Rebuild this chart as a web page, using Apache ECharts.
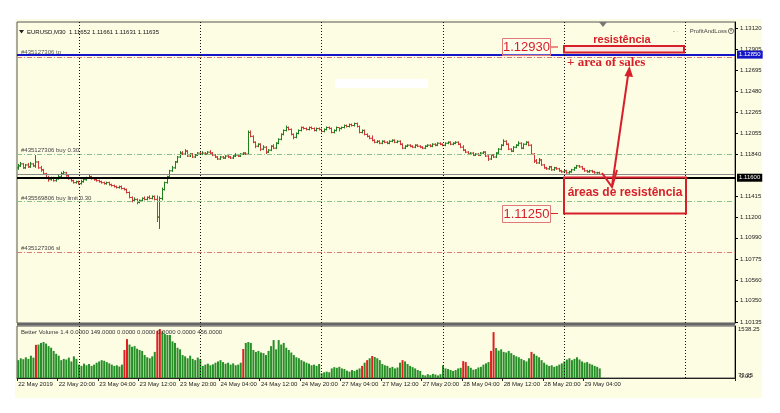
<!DOCTYPE html>
<html><head><meta charset="utf-8">
<script src="https://cdn.jsdelivr.net/npm/echarts@6/dist/echarts.min.js"></script>
<style>html,body{margin:0;padding:0;background:#fff;}#c{width:780px;height:413px;}</style>
</head><body><div id="c"></div>
<script>
// ---------- data (prices in pips above 1.10000) ----------
const SLOTS = 284;
const tickIndex = [0,16,32,48,64,80,96,112,128,144,160,176,192,208,224];
const tickLabels = ["22 May 2019","22 May 20:00","23 May 04:00","23 May 12:00","23 May 20:00","24 May 04:00","24 May 12:00","24 May 20:00","27 May 04:00","27 May 12:00","27 May 20:00","28 May 04:00","28 May 12:00","28 May 20:00","29 May 04:00"];
const daySeparators = [24,72,120,168,216,264];
const priceTicks = [1.13120,1.12905,1.12695,1.12480,1.12265,1.12055,1.11840,1.11415,1.11200,1.10990,1.10775,1.10560,1.10350,1.10135];
const volumeTicks = [73.25,1538.25];

const openPips = [
170,172,174,170,173,171,174,172,176,170,
168,164,160,158,160,157,159,161,164,165,
162,159,157,155,156,154,156,158,160,161,
159,158,157,156,155,154,155,153,152,151,
150,151,149,148,145,140,137,138,135,137,
139,138,140,139,141,138,120,139,148,155,
161,167,170,176,181,185,184,187,182,184,
181,183,185,184,185,184,186,185,183,181,
179,181,180,182,181,180,182,183,182,184,
185,184,206,202,196,192,194,189,191,186,
188,192,190,195,199,204,208,211,209,204,
201,205,208,211,210,209,211,210,208,210,
209,207,209,211,210,206,208,211,210,211,
213,212,214,213,215,212,206,208,204,202,
200,198,196,197,195,197,196,195,197,198,
196,197,194,190,192,193,192,191,193,192,
191,190,192,193,192,194,193,195,194,193,
195,196,194,195,196,194,191,188,186,184,
185,183,184,183,185,186,182,179,183,181,
185,189,193,197,194,189,187,191,193,195,
190,194,196,193,184,177,175,178,173,170,
169,171,168,170,169,167,166,167,165,166,
168,170,172,171,169,167,166,167,166,165,165.2];

const highPips = [
174,176,175,174,175,176,175,183,177,172,
169,165,162,161,161,160,163,166,167,166,
163,160,158,157,157,158,159,161,163,162,
160,159,158,157,156,156,156,154,153,152,
152,152,150,149,146,141,140,139,138,140,
141,141,142,142,142,142,141,150,156,162,
168,172,177,182,187,187,189,188,185,185,
184,186,187,187,186,187,188,186,184,182,
182,182,183,183,182,183,185,184,185,186,
186,208,208,203,197,195,195,193,192,189,
193,194,196,200,205,209,213,212,210,205,
206,209,212,212,211,212,212,211,211,211,
210,210,212,212,211,209,212,211,212,214,
214,215,215,216,216,213,209,209,205,203,
203,199,198,198,198,198,197,198,199,199,
198,198,195,193,194,194,193,194,194,193,
192,193,194,194,195,195,196,196,195,196,
197,197,196,197,197,195,193,189,187,186,
186,185,185,186,187,187,183,184,184,186,
190,194,199,198,195,190,192,194,197,196,
195,197,197,194,185,179,180,179,174,171,
172,172,171,171,170,168,168,168,167,169,
171,173,173,172,170,168,168,168,167,166,166.1];

const lowPips = [
168,171,169,169,170,170,171,170,169,166,
163,159,156,157,156,156,158,160,163,161,
158,156,154,154,153,153,155,157,159,158,
157,156,155,154,153,153,152,151,150,149,
149,148,147,144,139,135,136,133,134,136,
137,137,138,138,137,115,108,137,147,154,
160,166,169,175,180,183,183,181,181,180,
180,182,183,183,183,183,184,182,180,178,
178,179,179,180,179,179,181,181,181,183,
183,183,201,195,190,191,187,188,184,185,
187,189,189,194,198,203,207,208,203,199,
200,204,207,209,208,208,209,207,207,208,
206,206,208,209,205,205,207,207,209,210,
211,211,212,212,211,205,205,203,201,199,
197,195,195,194,194,195,194,194,196,195,
195,193,189,189,191,191,190,190,191,190,
189,189,191,191,191,192,192,193,192,192,
194,193,193,194,193,190,187,185,183,183,
182,182,182,182,184,181,177,178,180,180,
184,188,192,193,188,186,186,190,192,189,
189,193,192,183,175,174,174,172,169,168,
168,167,167,168,166,165,165,164,164,165,
167,169,170,168,166,165,165,165,164,164,163.1];

const closePips = [
172,174,170,173,171,174,172,176,170,168,
164,160,158,160,157,159,161,164,165,162,
159,157,155,156,154,156,158,160,161,159,
158,157,156,155,154,155,153,152,151,150,
151,149,148,145,140,137,138,135,137,139,
138,140,139,141,138,120,139,148,155,161,
167,170,176,181,185,184,187,182,184,181,
183,185,184,185,184,186,185,183,181,179,
181,180,182,181,180,182,183,182,184,185,
184,206,202,196,192,194,189,191,186,188,
192,190,195,199,204,208,211,209,204,201,
205,208,211,210,209,211,210,208,210,209,
207,209,211,210,206,208,211,210,211,213,
212,214,213,215,212,206,208,204,202,200,
198,196,197,195,197,196,195,197,198,196,
197,194,190,192,193,192,191,193,192,191,
190,192,193,192,194,193,195,194,193,195,
196,194,195,196,194,191,188,186,184,185,
183,184,183,185,186,182,179,183,181,185,
189,193,197,194,189,187,191,193,195,190,
194,196,193,184,177,175,178,173,170,169,
171,168,170,169,167,166,167,165,166,168,
170,172,171,169,167,166,167,166,165,165,163.5];

const volume = [
560,620,590,650,600,700,640,1040,1050,1100,
1130,1080,1000,950,850,760,700,560,600,580,
640,520,680,600,420,380,450,400,440,380,
420,480,520,560,540,500,460,420,380,400,
360,420,880,1220,1050,980,1000,920,880,850,
720,650,620,680,820,1480,1538,1470,1380,1350,
1350,1150,1100,950,900,720,680,620,700,600,
560,640,590,380,420,450,400,430,480,520,
560,500,450,480,420,460,400,420,480,910,
1100,1130,1100,880,820,850,800,780,720,850,
1000,1190,900,1190,1050,1100,950,880,800,720,
650,620,560,520,480,450,400,420,380,440,
150,180,200,180,300,340,320,350,300,280,
230,200,250,220,260,300,380,480,560,620,
690,660,620,560,440,400,380,320,350,300,
330,480,560,520,440,380,340,300,250,220,
100,80,120,90,130,110,80,120,400,300,
280,250,220,250,300,320,530,500,380,320,
260,280,330,350,420,460,500,850,1440,940,
860,900,820,800,850,780,720,680,650,600,
560,520,620,820,760,700,650,560,480,420,
380,400,350,380,420,460,520,580,620,560,
600,650,580,520,480,500,450,420,380,350,300];
const climaxBars = [7,42,43,55,56,89,136,138,140,152,176,177,187,188,203];

// order / price lines
const tpLine = 1.12850, tpShadow = 1.12820, buyLine = 1.11840, bidLine = 1.11635,
      levelLine = 1.11600, buyLimitLine = 1.11365, slLine = 1.10845;

// ---------- chart ----------
const FONT = '"Liberation Sans", Arial, sans-serif';
const BG = '#FDFDE4';
const UP = '#1F7F1F', DOWN = '#CC3838';
const VGREEN = '#278F27', VRED = '#E02020';
const ANN = '#D7202A';
const toPrice = p => Math.round((1.1 + p / 10000) * 1e5) / 1e5;
const cats = Array.from({length: SLOTS}, (_, i) => i);
const ohlc = closePips.map((c, i) => [i, toPrice(openPips[i]), toPrice(highPips[i]), toPrice(lowPips[i]), toPrice(c)]);
const volData = volume.map((v, i) => ({value: v, itemStyle: {color: climaxBars.includes(i) ? VRED : VGREEN}}));

function renderBar(params, api) {
  const i = api.value(0), o = api.value(1), h = api.value(2), l = api.value(3), c = api.value(4);
  const pO = api.coord([i, o]), pH = api.coord([i, h]), pL = api.coord([i, l]), pC = api.coord([i, c]);
  const x = Math.floor(pO[0]) + 0.5;
  const color = c >= o ? UP : DOWN;
  let yH = pH[1], yL = pL[1];
  if (yL - yH < 1) yL = yH + 1;
  return {type: 'group', children: [
    {type: 'line', shape: {x1: x, y1: yH, x2: x, y2: yL}, style: {stroke: color, lineWidth: 1}},
    {type: 'line', shape: {x1: x - 1.5, y1: pO[1], x2: x, y2: pO[1]}, style: {stroke: color, lineWidth: 1}},
    {type: 'line', shape: {x1: x, y1: pC[1], x2: x + 1.5, y2: pC[1]}, style: {stroke: color, lineWidth: 1}}
  ]};
}

const dashDot = [5, 2, 1, 2];
const vSep = daySeparators.map(v => ({xAxis: v, lineStyle: {color: '#111', type: [1, 2], width: 1}}));
const boxLabel = (txt, bg) => ({show: true, position: 'end', formatter: txt, color: '#fff', backgroundColor: bg,
  fontSize: 6, fontFamily: FONT, padding: [1, 2, 1, 2], distance: 2});

const isTick = idx => tickIndex.includes(idx);

const chart = echarts.init(document.getElementById('c'));
chart.setOption({
  animation: false,
  backgroundColor: '#fff',
  grid: [
    {left: 17, right: 45, top: 22, height: 301, show: true, borderColor: '#555', borderWidth: 1, backgroundColor: 'transparent'},
    {left: 17, right: 45, top: 326, height: 52, show: true, borderColor: '#555', borderWidth: 1, backgroundColor: 'transparent'}
  ],
  xAxis: [
    {type: 'category', gridIndex: 0, data: cats, boundaryGap: true,
     axisLine: {show: false}, axisTick: {show: false}, axisLabel: {show: false}, splitLine: {show: false}},
    {type: 'category', gridIndex: 1, data: cats, boundaryGap: true,
     axisLine: {show: true, lineStyle: {color: '#222'}},
     axisTick: {show: true, interval: isTick, length: 3, lineStyle: {color: '#222'}},
     axisLabel: {show: true, interval: isTick, formatter: (v, idx) => tickLabels[tickIndex.indexOf(idx)] || '',
       align: 'left', fontSize: 6, fontFamily: FONT, color: '#222', margin: 3},
     splitLine: {show: false}}
  ],
  yAxis: [
    {type: 'value', gridIndex: 0, position: 'right', min: 1.10125, max: 1.13181, scale: true,
     splitLine: {show: false},
     axisLine: {show: true, lineStyle: {color: '#000'}},
     axisTick: {show: true, customValues: priceTicks, length: 3, lineStyle: {color: '#000'}},
     axisLabel: {customValues: priceTicks, formatter: v => v.toFixed(5), fontSize: 6, fontFamily: FONT, color: '#222', margin: 5}},
    {type: 'value', gridIndex: 1, position: 'right', min: 0, max: 1632,
     splitLine: {show: false},
     axisLine: {show: true, lineStyle: {color: '#000'}},
     axisTick: {show: false},
     axisLabel: {customValues: volumeTicks, formatter: v => v.toFixed(2), fontSize: 6, fontFamily: FONT, color: '#222', margin: 3}}
  ],
  series: [
    {type: 'line', name: 'orders', xAxisIndex: 0, yAxisIndex: 0, data: [], z: 2, silent: true,
     markLine: {silent: true, symbol: ['none', 'none'], animation: false, precision: 5, label: {show: false},
       data: [
         {yAxis: tpShadow, lineStyle: {color: '#E07878', type: dashDot, width: 1}},
         {yAxis: buyLine, lineStyle: {color: '#8CC28C', type: dashDot, width: 1}},
         {yAxis: buyLimitLine, lineStyle: {color: '#8CC28C', type: dashDot, width: 1}},
         {yAxis: slLine, lineStyle: {color: '#E07878', type: dashDot, width: 1}},
         {yAxis: bidLine, lineStyle: {color: '#8A8A8A', type: 'solid', width: 1}},
         {yAxis: levelLine, lineStyle: {color: '#000', type: 'solid', width: 2}, label: boxLabel('1.11600', '#000')},
         {yAxis: tpLine, lineStyle: {color: '#1414C8', type: 'solid', width: 2}, label: boxLabel('1.12850', '#1414C8')},
         ...vSep
       ]}},
    {type: 'custom', name: 'EURUSD,M30', xAxisIndex: 0, yAxisIndex: 0, renderItem: renderBar,
     encode: {x: 0, y: [1, 2, 3, 4]}, data: ohlc, z: 3},
    {type: 'bar', name: 'Better Volume', xAxisIndex: 1, yAxisIndex: 1, barWidth: 2, data: volData,
     markLine: {silent: true, symbol: ['none', 'none'], animation: false, label: {show: false}, data: vSep}}
  ],
  graphic: [
    {type: 'rect', z: -100, silent: true, shape: {x: 15, y: 19, width: 747, height: 379}, style: {fill: BG}},
    {type: 'rect', z: 1, silent: true, shape: {x: 17, y: 323, width: 718, height: 2.5}, style: {fill: '#666'}},
    {type: 'rect', z: 50, silent: true, shape: {x: 335, y: 79, width: 93, height: 9}, style: {fill: '#fff'}},
    // header
    {type: 'polygon', z: 50, shape: {points: [[19, 30], [24, 30], [21.5, 33.5]]}, style: {fill: '#222'}},
    {type: 'text', z: 50, x: 27, y: 32, style: {text: 'EURUSD,M30  1.11652 1.11661 1.11631 1.11635', font: '6px ' + FONT, fill: '#111', textVerticalAlign: 'middle'}},
    {type: 'text', z: 50, x: 727, y: 31, style: {text: 'ProfitAndLoss', font: '6px ' + FONT, fill: '#444', textAlign: 'right', textVerticalAlign: 'middle'}},
    {type: 'text', z: 50, x: 673, y: 31, style: {text: '- ·', font: '6px ' + FONT, fill: '#777', textVerticalAlign: 'middle'}},
    {type: 'circle', z: 50, shape: {cx: 731, cy: 31, r: 2.6}, style: {fill: 'none', stroke: '#555', lineWidth: 0.8}},
    {type: 'text', z: 50, x: 731, y: 31, style: {text: '×', font: '5px ' + FONT, fill: '#555', textAlign: 'center', textVerticalAlign: 'middle'}},
    {type: 'polygon', z: 50, shape: {points: [[599, 22], [607, 22], [603, 27]]}, style: {fill: '#777'}},
    {type: 'text', z: 50, x: 740, y: 376, style: {text: '0.00', font: '6px ' + FONT, fill: '#222', textVerticalAlign: 'middle'}},
    // order labels
    {type: 'text', z: 1, x: 21, y: 52.5, style: {text: '#435127306 tp', font: '6px ' + FONT, fill: '#555', textVerticalAlign: 'middle'}},
    {type: 'text', z: 50, x: 21, y: 150, style: {text: '#435127306 buy 0.30', font: '6px ' + FONT, fill: '#444', textVerticalAlign: 'middle'}},
    {type: 'text', z: 50, x: 21, y: 198.5, style: {text: '#435569806 buy limit 0.30', font: '6px ' + FONT, fill: '#444', textVerticalAlign: 'middle'}},
    {type: 'text', z: 50, x: 21, y: 248, style: {text: '#435127306 sl', font: '6px ' + FONT, fill: '#444', textVerticalAlign: 'middle'}},
    {type: 'text', z: 50, x: 21, y: 332, style: {text: 'Better Volume 1.4 0.0000 149.0000 0.0000 0.0000 0.0000 0.0000 456.0000', font: '6px ' + FONT, fill: '#333', textVerticalAlign: 'middle'}},
    // annotations
    {type: 'text', z: 60, x: 622, y: 40, style: {text: 'resistência', font: 'bold 11px ' + FONT, fill: ANN, textAlign: 'center', textVerticalAlign: 'middle'}},
    {type: 'rect', z: 60, shape: {x: 564, y: 46, width: 120, height: 6.5}, style: {fill: '#FBEAE2', stroke: ANN, lineWidth: 2}},
    {type: 'rect', z: 60, shape: {x: 502.5, y: 38.5, width: 48, height: 17}, style: {fill: 'rgba(255,255,255,0.3)', stroke: '#E07A7A', lineWidth: 1}},
    {type: 'text', z: 61, x: 526.5, y: 47.5, style: {text: '1.12930', font: '13px ' + FONT, fill: ANN, textAlign: 'center', textVerticalAlign: 'middle'}},
    {type: 'line', z: 60, shape: {x1: 551, y1: 47, x2: 558, y2: 47}, style: {stroke: ANN, lineWidth: 1}},
    {type: 'text', z: 60, x: 567, y: 63, style: {text: '+ area of sales', font: 'bold 13px "Liberation Serif", "Times New Roman", serif', fill: ANN, textVerticalAlign: 'middle'}},
    {type: 'line', z: 60, shape: {x1: 612, y1: 186, x2: 628.5, y2: 72}, style: {stroke: ANN, lineWidth: 2}},
    {type: 'polygon', z: 60, shape: {points: [[629.5, 66], [633, 77], [624.5, 76]]}, style: {fill: ANN}},
    {type: 'polyline', z: 60, shape: {points: [[602, 173], [612, 187], [617, 170]]}, style: {stroke: ANN, lineWidth: 2, fill: 'none'}},
    {type: 'rect', z: 60, shape: {x: 564, y: 177.5, width: 122, height: 36}, style: {fill: 'none', stroke: ANN, lineWidth: 2}},
    {type: 'text', z: 60, x: 625, y: 193, style: {text: 'áreas de resistência', font: 'bold 12px ' + FONT, fill: ANN, textAlign: 'center', textVerticalAlign: 'middle'}},
    {type: 'rect', z: 60, shape: {x: 502.5, y: 205.5, width: 48, height: 17}, style: {fill: 'rgba(255,255,255,0.3)', stroke: '#E07A7A', lineWidth: 1}},
    {type: 'text', z: 61, x: 526.5, y: 214.5, style: {text: '1.11250', font: '13px ' + FONT, fill: ANN, textAlign: 'center', textVerticalAlign: 'middle'}},
    {type: 'line', z: 60, shape: {x1: 551, y1: 213.5, x2: 558, y2: 213.5}, style: {stroke: ANN, lineWidth: 1}}
  ]
});
</script>
</body></html>
